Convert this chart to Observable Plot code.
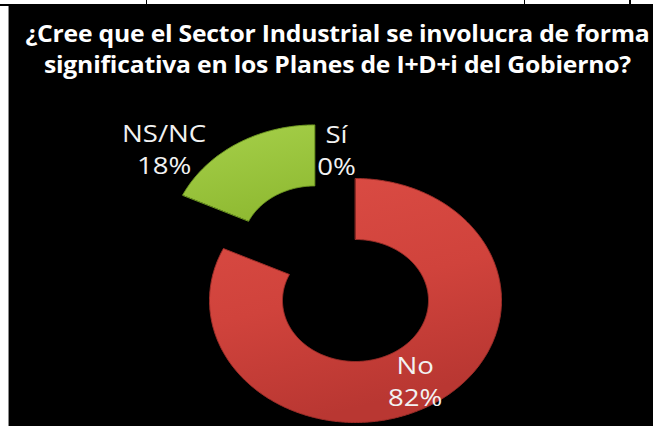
<!DOCTYPE html>
<html>
<head>
<meta charset="utf-8">
<script src="https://cdn.jsdelivr.net/npm/d3@7"></script>
<script src="https://cdn.jsdelivr.net/npm/@observablehq/plot@0.6"></script>
<style>
  html, body { margin: 0; padding: 0; background: #ffffff; }
  body { width: 653px; height: 426px; position: relative; overflow: hidden; font-family: "Open Sans", Lato, sans-serif; }
  .rule { position: absolute; background: #000; }
  #panel { position: absolute; left: 9px; top: 6px; width: 644px; height: 420px; background: #000; }
  #edge { position: absolute; left: 8px; top: 6px; width: 1px; height: 420px; background: #8a8a8a; }
  #title { height: 90px; box-sizing: border-box; padding-top: 12px; padding-left: 12px; color: #fff;
           font-weight: 700; font-size: 23px; line-height: 31px; text-align: center; white-space: nowrap;
           letter-spacing: -0.2px; transform: scaleX(1.075); }
  #chart svg { display: block; }
</style>
</head>
<body>
<div class="rule" style="left:0;top:4px;width:653px;height:2px"></div>
<div class="rule" style="left:146px;top:0;width:1px;height:5px"></div>
<div class="rule" style="left:524px;top:0;width:1px;height:5px"></div>
<div class="rule" style="left:629px;top:0;width:2px;height:4px"></div>
<div id="edge"></div>
<div id="panel">
  <div id="title">¿Cree que el Sector Industrial se involucra de forma<br>significativa en los Planes de I+D+i del Gobierno?</div>
  <div id="chart"></div>
</div>
<script>
// ---- data ----
const categories = ["Sí", "No", "NS/NC"];
const values = [0, 82, 18];
const exploded = ["NS/NC"];

// ---- styles / layout ----
const fills = { "Sí": "url(#gBlue)", "No": "url(#gRed)", "NS/NC": "url(#gGreen)" };
const strokes = { "Sí": "#3b6aa0", "No": "#9e2e29", "NS/NC": "#6f9a22" };
const labelShift = { "Sí": [-19, -60], "No": [1, 2], "NS/NC": [-92, -22] };
const innerR = 0.5, outerR = 1, explodeBy = 0.52, labelR = 0.75;

const total = d3.sum(values);
let acc = 0;
const slices = categories.map((c, i) => {
  const a0 = acc / total * 2 * Math.PI;
  acc += values[i];
  const a1 = acc / total * 2 * Math.PI;
  const mid = (a0 + a1) / 2;
  const off = exploded.includes(c) ? explodeBy : 0;
  return { c, v: values[i], a0, a1, mid, ox: off * Math.sin(mid), oy: off * Math.cos(mid) };
});

function ring(s) {
  const pts = [];
  const n = Math.max(2, Math.ceil((s.a1 - s.a0) / 0.01));
  for (let k = 0; k <= n; k++) {
    const a = s.a0 + (s.a1 - s.a0) * k / n;
    pts.push({ x: s.ox + outerR * Math.sin(a), y: s.oy + outerR * Math.cos(a) });
  }
  for (let k = n; k >= 0; k--) {
    const a = s.a0 + (s.a1 - s.a0) * k / n;
    pts.push({ x: s.ox + innerR * Math.sin(a), y: s.oy + innerR * Math.cos(a) });
  }
  return pts;
}

const marks = [];
slices.filter(s => s.v > 0).forEach(s => {
  marks.push(Plot.line(ring(s), { x: "x", y: "y", fill: fills[s.c], stroke: strokes[s.c], strokeWidth: 1, curve: "linear-closed" }));
});
slices.forEach(s => {
  const [dx, dy] = labelShift[s.c];
  marks.push(Plot.text([s], {
    x: d => d.ox + labelR * Math.sin(d.mid),
    y: d => d.oy + labelR * Math.cos(d.mid),
    text: d => `${d.c}\n${d.v}%`,
    dx, dy, fill: "#f2f2f2", fontSize: 23, lineHeight: 1.4,
    fontFamily: "'Open Sans', Lato, sans-serif",
    className: "slice-label"
  }));
});

const chart = Plot.plot({
  width: 644, height: 330, margin: 0,
  x: { domain: [-346 / 146, 298 / 146], axis: null },
  y: { domain: [-126 / 122, 204 / 122], axis: null },
  style: { background: "#000", overflow: "visible" },
  marks
});

// the reference figure is stretched horizontally; widen the label glyphs to match
d3.select(chart).selectAll(".slice-label text").attr("transform", function () {
  return (this.getAttribute("transform") || "") + " scale(1.2,1)";
});

const defs = d3.select(chart).insert("defs", ":first-child");
function grad(id, stops) {
  const g = defs.append("linearGradient").attr("id", id).attr("x1", 0).attr("y1", 0).attr("x2", 0.3).attr("y2", 1);
  stops.forEach(([o, c]) => g.append("stop").attr("offset", o).attr("stop-color", c));
}
grad("gRed", [[0, "#dc4d45"], [0.55, "#d0433c"], [1, "#b93732"]]);
grad("gGreen", [[0, "#a6d04a"], [1, "#90bb33"]]);
grad("gBlue", [[0, "#5b8ccb"], [1, "#3f70ad"]]);

document.getElementById("chart").appendChild(chart);
</script>
</body>
</html>
